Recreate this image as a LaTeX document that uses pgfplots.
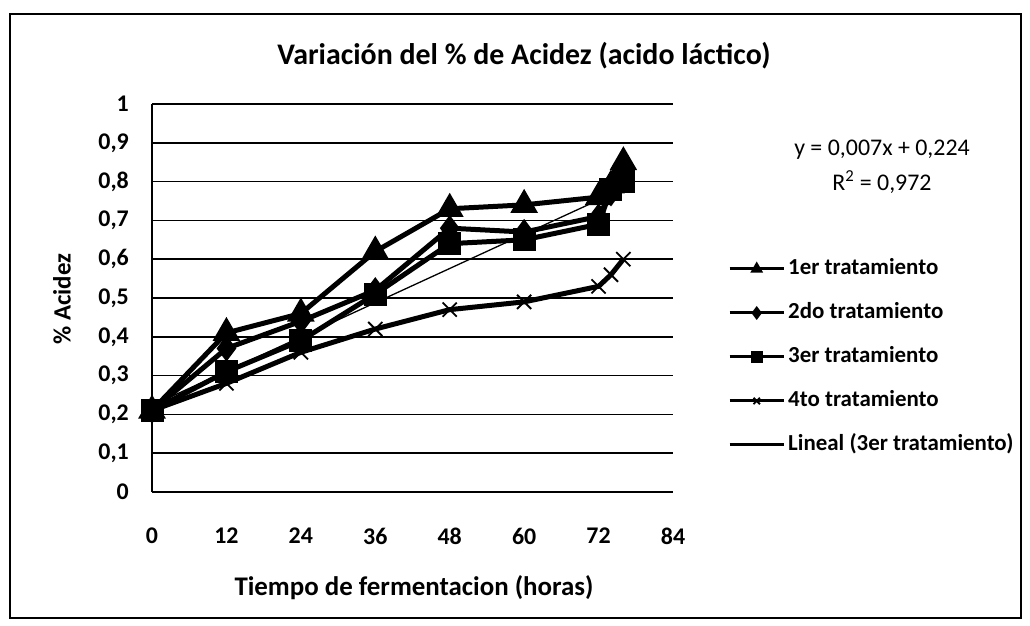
\documentclass[border=0pt]{standalone}
\usepackage{pgfplots}
\pgfplotsset{compat=1.18}
\usepackage{fontspec}
\setmainfont{Carlito}
\begin{document}
\begin{tikzpicture}
\useasboundingbox (0bp,0bp) rectangle (1030bp,626bp);
\fill[white] (0bp,0bp) rectangle (1030bp,626bp);
\draw[line width=1.5bp] (10bp,8bp) rectangle (1021bp,612bp);
\node[font=\fontsize{30}{34}\selectfont\bfseries] at (524bp,570bp) {Variación del \% de Acidez (acido láctico)};
\node[font=\fontsize{25}{28}\selectfont\bfseries, rotate=90] at (62bp,327bp) {\% Acidez};
\node[font=\fontsize{27}{30}\selectfont\bfseries] at (414bp,38bp) {Tiempo de fermentacion (horas)};
\node[font=\fontsize{24}{28}\selectfont] at (882bp,476bp) {y = 0,007x + 0,224};
\node[font=\fontsize{24}{28}\selectfont] at (882bp,444bp) {R\textsuperscript{2} = 0,972};
\begin{axis}[
  at={(152bp,134bp)}, anchor=south west,
  scale only axis, width=521bp, height=388bp,
  xmin=0, xmax=84, ymin=0, ymax=1,
  axis x line*=bottom, axis y line*=left,
  axis line style={line width=1.6bp, black},
  xtick={0,12,24,36,48,60,72,84},
  ytick={0,0.1,0.2,0.3,0.4,0.5,0.6,0.7,0.8,0.9,1},
  yticklabels={0,{0,1},{0,2},{0,3},{0,4},{0,5},{0,6},{0,7},{0,8},{0,9},1},
  xticklabels={0,12,24,36,48,60,72,84},
  major tick length=0pt,
  ymajorgrids, grid style={black, line width=1.6bp},
  ticklabel style={font=\fontsize{24}{28}\selectfont\bfseries, inner sep=0pt},
  xticklabel style={anchor=center, yshift=-44bp},
  yticklabel style={anchor=east, xshift=-23bp},
  clip=false,
  legend style={at={(1.1056,0.348)}, anchor=west, draw=none, fill=none,
    font=\fontsize{23}{26}\selectfont\bfseries, row sep=22bp, column sep=3bp,
    inner sep=0pt, nodes={inner sep=0pt, text height=17bp, text depth=5bp}},
  legend cell align=left,
  legend image code/.code={\draw[mark repeat=2,mark phase=2,#1, mark size=4.5bp, line width=3bp] plot coordinates {(0bp,0bp) (27bp,0bp) (54bp,0bp)};},
]
\addplot[black, line width=5bp, mark=triangle*, mark size=11bp, mark options={solid}] coordinates {
(0,0.21) (12,0.41) (24,0.46) (36,0.62) (48,0.73) (60,0.74) (72,0.76) (74,0.79) (76,0.85)};
\addlegendentry{1er tratamiento}
\addplot[black, line width=5bp, mark=diamond*, mark size=9bp, mark options={solid}] coordinates {
(0,0.21) (12,0.37) (24,0.44) (36,0.52) (48,0.68) (60,0.67) (72,0.71) (74,0.77) (76,0.82)};
\addlegendentry{2do tratamiento}
\addplot[black, line width=5bp, mark=square*, mark size=9bp, mark options={solid}] coordinates {
(0,0.21) (12,0.31) (24,0.39) (36,0.51) (48,0.64) (60,0.65) (72,0.69) (74,0.78) (76,0.80)};
\addlegendentry{3er tratamiento}
\addplot[black, line width=5bp, mark=x, mark size=10bp, mark options={solid, line width=1.8bp}] coordinates {
(0,0.21) (12,0.28) (24,0.36) (36,0.42) (48,0.47) (60,0.49) (72,0.53) (74,0.56) (76,0.60)};
\addlegendentry{4to tratamiento}
\addplot[black, line width=1.3bp] coordinates {(0,0.223) (76,0.782)};
\addlegendentry{Lineal (3er tratamiento)}
\end{axis}
\end{tikzpicture}
\end{document}
